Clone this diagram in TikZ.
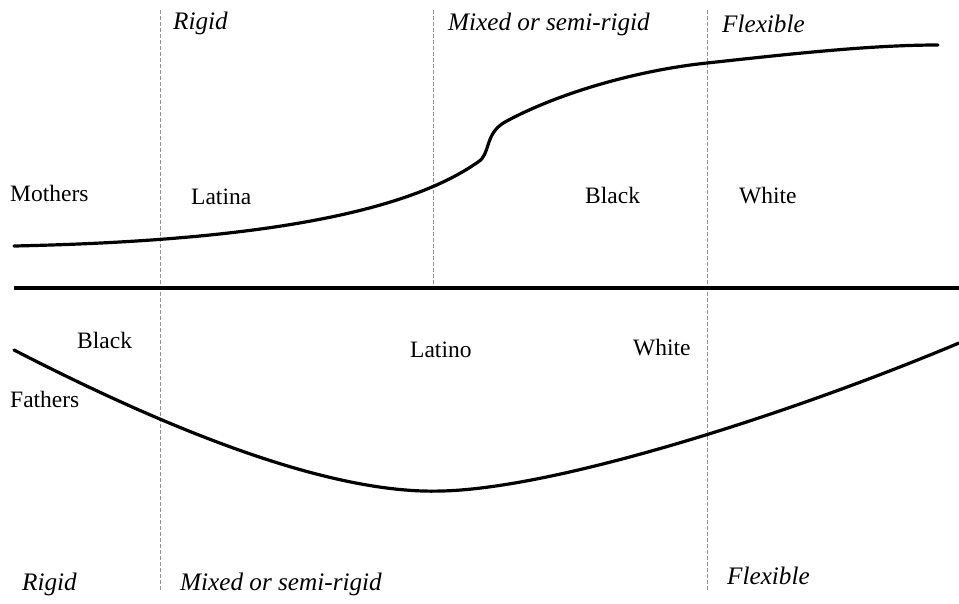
\documentclass[tikz,border=0pt]{standalone}
\usepackage{fontspec}
\setmainfont{Liberation Serif}
\begin{document}
\begin{tikzpicture}[x=1pt,y=-1pt,
  lbl/.style={anchor=base west,inner sep=0pt,font=\fontsize{23.5}{26}\selectfont},
  cat/.style={anchor=base west,inner sep=0pt,font=\fontsize{25.2}{28}\selectfont\itshape},
  curve/.style={line width=3.2pt,line cap=round},
  axis/.style={line width=3.2pt},
  divider/.style={gray!85,line width=0.8pt,dash pattern=on 4pt off 2pt}]
\useasboundingbox (0,0) rectangle (959,603);
% dividers
\coordinate (d1t) at (160,10); \coordinate (d1b) at (160,590);
\coordinate (d2t) at (433,10); \coordinate (d2b) at (433,288);
\coordinate (d3t) at (707,10); \coordinate (d3b) at (707,590);
\draw[divider] (d1t) -- (d1b);
\draw[divider] (d2t) -- (d2b);
\draw[divider] (d3t) -- (d3b);
% axis
\coordinate (axl) at (14,288); \coordinate (axr) at (959,288);
\draw[axis] (axl) -- (axr);
% mothers curve
\coordinate (m0) at (14,246);
\coordinate (m1) at (478,162);
\coordinate (m2) at (505,122);
\coordinate (m3) at (707,63);
\coordinate (m4) at (938,45);
\draw[curve] (m0) .. controls (200,242) and (390,224) .. (m1)
  .. controls (491,154) and (484,134) .. (m2)
  .. controls (560,92) and (640,70) .. (m3)
  .. controls (790,54) and (870,45) .. (m4);
% fathers curve
\coordinate (f0) at (14,350);
\coordinate (f1) at (442,491);
\coordinate (f2) at (959,343);
\draw[curve] (f0) .. controls (150,420) and (322,495) .. (f1)
  .. controls (562,488) and (800,410) .. (f2);
% top labels
\node[cat] (tr) at (173,29) {Rigid};
\node[cat] (tm) at (448,30) {Mixed or semi-rigid};
\node[cat] (tf) at (722,32) {Flexible};
\node[lbl] (mo) at (10,201) {Mothers};
\node[lbl] (la) at (191,204) {Latina};
\node[lbl] (bl) at (585,203) {Black};
\node[lbl] (wh) at (739,203) {White};
% bottom labels
\node[lbl] (bb) at (77,348) {Black};
\node[lbl] (fa) at (10,407) {Fathers};
\node[lbl] (lo) at (410,357) {Latino};
\node[lbl] (bw) at (633,355) {White};
\node[cat] (br) at (22,590) {Rigid};
\node[cat] (bm) at (180,590) {Mixed or semi-rigid};
\node[cat] (bf) at (727,584) {Flexible};
\end{tikzpicture}
\end{document}
